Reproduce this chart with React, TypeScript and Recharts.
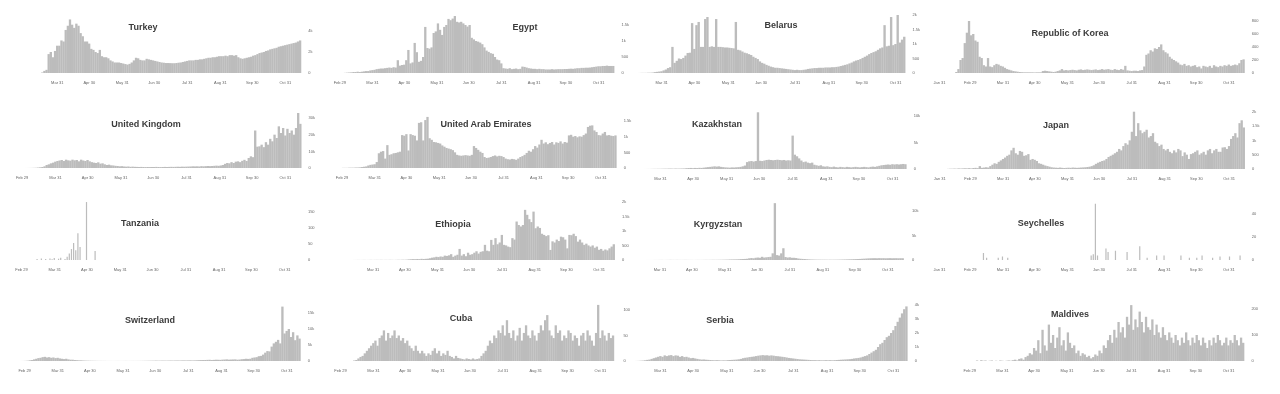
import React from 'react';
import { BarChart, Bar, XAxis, YAxis } from 'recharts';

// day index: 0 = Jan 1 2020
const MONTH_END_DAYS = [30, 59, 90, 120, 151, 181, 212, 243, 273, 304];
const MONTH_END_LABELS = ['Jan 31', 'Feb 29', 'Mar 31', 'Apr 30', 'May 31', 'Jun 30', 'Jul 31', 'Aug 31', 'Sep 30', 'Oct 31'];

// new cases, one value every second day from the start day
const turkeyStart = 76;
const turkeyCases = [
  50, 200, 300, 1800, 2000, 1500, 2100, 2600, 2600, 3100,
  3000, 4100, 4500, 5100, 4600, 4300, 4700, 4500, 3800, 3500,
  3000, 3000, 2800, 2300, 2200, 2000, 1900, 2200, 1600, 1500,
  1500, 1400, 1200, 1100, 1000, 1000, 1000, 950, 900, 850,
  800, 870, 1000, 1200, 1450, 1400, 1250, 1200, 1200, 1350,
  1300, 1250, 1200, 1150, 1100, 1050, 1000, 980, 950, 950,
  940, 930, 930, 950, 980, 1000, 1050, 1100, 1150, 1200,
  1200, 1200, 1250, 1250, 1300, 1300, 1350, 1400, 1450, 1450,
  1500, 1500, 1550, 1600, 1600, 1600, 1650, 1600, 1700, 1700,
  1650, 1700, 1500, 1400, 1350, 1400, 1450, 1500, 1550, 1650,
  1700, 1800, 1900, 1950, 2000, 2100, 2150, 2250, 2300, 2350,
  2400, 2500, 2550, 2600, 2650, 2700, 2750, 2800, 2850, 2900,
  3000, 3100,
];

const egyptStart = 64;
const egyptCases = [
  5, 10, 15, 20, 30, 30, 40, 30, 40, 50,
  60, 60, 80, 90, 100, 120, 130, 140, 140, 150,
  160, 170, 160, 180, 170, 400, 230, 250, 260, 400,
  720, 300, 330, 940, 650, 350, 380, 500, 1440, 780,
  760, 800, 1250, 1300, 1550, 1350, 1190, 1440, 1500, 1690,
  1650, 1700, 1780, 1600, 1580, 1600, 1550, 1500, 1450, 1500,
  1100, 1050, 1000, 980, 950, 900, 800, 700, 660, 620,
  600, 500, 420, 400, 300, 150, 140, 130, 150, 120,
  130, 140, 120, 130, 200, 190, 170, 150, 140, 130,
  130, 120, 130, 120, 120, 110, 110, 110, 120, 110,
  115, 120, 120, 120, 125, 125, 130, 135, 130, 140,
  150, 150, 160, 160, 165, 165, 170, 180, 190, 200,
  210, 210, 220, 220, 230, 220, 220, 220,
];

const belarusStart = 70;
const belarusCases = [
  2, 5, 5, 5, 10, 10, 15, 30, 40, 50,
  60, 90, 120, 170, 200, 900, 350, 420, 500, 480,
  520, 600, 690, 700, 1720, 830, 1650, 1760, 900, 900,
  1860, 1930, 900, 920, 900, 1860, 900, 900, 890, 880,
  880, 870, 860, 850, 1760, 800, 780, 740, 700, 680,
  650, 620, 560, 520, 480, 400, 350, 320, 280, 250,
  220, 200, 180, 180, 170, 160, 150, 140, 130, 120,
  110, 100, 110, 100, 100, 110, 120, 140, 150, 160,
  170, 170, 180, 180, 180, 190, 190, 190, 200, 200,
  210, 220, 240, 260, 280, 300, 330, 360, 400, 430,
  450, 480, 520, 560, 600, 650, 690, 720, 750, 800,
  850, 880, 1650, 920, 940, 1930, 960, 1000, 2000, 1050,
  1150, 1250,
];

const koreaStart = 46;
const koreaCases = [
  15, 60, 200, 230, 460, 620, 800, 580, 600, 500,
  480, 250, 230, 120, 100, 230, 100, 90, 120, 140,
  130, 110, 100, 80, 60, 50, 40, 30, 25, 20,
  15, 12, 10, 10, 10, 10, 10, 8, 10, 10,
  10, 30, 35, 30, 25, 20, 15, 20, 30, 40,
  60, 40, 45, 40, 45, 50, 45, 40, 50, 55,
  45, 50, 55, 50, 45, 50, 55, 45, 50, 60,
  50, 55, 60, 50, 45, 60, 50, 45, 60, 50,
  110, 40, 35, 30, 35, 35, 30, 40, 45, 100,
  280, 300, 350, 330, 380, 370, 400, 440, 350, 320,
  300, 250, 220, 200, 180, 160, 130, 120, 140, 110,
  120, 100, 110, 120, 90, 100, 70, 110, 100, 90,
  110, 80, 120, 100, 90, 110, 100, 120, 110, 130,
  110, 120, 130, 120, 150, 200, 210,
];

const ukStart = 60;
const ukCases = [
  5, 10, 20, 40, 60, 100, 150, 250, 400, 600,
  1000, 1800, 2200, 2800, 3200, 3800, 4200, 4500, 4800, 4200,
  5000, 4600, 4400, 5000, 4600, 4800, 4000, 5000, 4500, 4200,
  4800, 4000, 3500, 3200, 3000, 3400, 2600, 2800, 2200, 1800,
  2000, 1600, 1500, 1300, 1200, 1000, 1100, 900, 800, 900,
  700, 800, 700, 650, 600, 650, 600, 550, 600, 550,
  600, 600, 650, 600, 550, 600, 650, 600, 650, 700,
  650, 700, 750, 700, 800, 750, 800, 850, 900, 1000,
  950, 1000, 900, 1100, 1000, 1100, 1200, 1100, 1200, 1300,
  1400, 1300, 1500, 1800, 2500, 3000, 2800, 3500, 3000, 3800,
  4000, 3500, 4300, 4900, 4200, 6000, 7000, 6500, 22500, 12800,
  13000, 14000, 12500, 15500, 14000, 17500, 16000, 20000, 18000, 25000,
  21000, 24000, 19500, 23500, 21000, 22500, 20000, 24000, 33000, 26500,
];

const uaeStart = 60;
const uaeCases = [
  5, 5, 5, 10, 10, 10, 15, 15, 20, 30,
  40, 50, 80, 100, 110, 120, 190, 470, 520, 540,
  300, 730, 420, 440, 470, 480, 500, 520, 1050, 1030,
  1080, 560, 1080, 1050, 1030, 880, 1440, 1460, 880, 1530,
  1630, 950, 900, 830, 820, 800, 780, 720, 680, 640,
  620, 600, 570, 500, 420, 400, 390, 400, 410, 400,
  390, 420, 700, 640, 580, 520, 480, 350, 320, 330,
  350, 380, 400, 370, 390, 380, 350, 300, 280, 270,
  290, 280, 260, 300, 350, 380, 420, 480, 550, 520,
  600, 700, 650, 750, 900, 780, 820, 760, 800, 830,
  750, 820, 800, 850, 780, 830, 810, 1040, 1060, 1000,
  1020, 980, 1010, 1000, 1050, 1100, 1310, 1350, 1360, 1200,
  1150, 1050, 1040, 1100, 1150, 1040, 1050, 1030, 1020, 1040,
];

const kazakhstanStart = 76;
const kazakhstanCases = [
  5, 10, 10, 20, 30, 30, 40, 40, 50, 60,
  60, 80, 80, 60, 90, 70, 80, 90, 100, 150,
  180, 200, 150, 200, 180, 220, 200, 250, 300, 350,
  400, 450, 500, 450, 500, 400, 350, 300, 280, 250,
  300, 280, 320, 350, 400, 500, 650, 1300, 1450, 1500,
  1400, 1500, 10700, 1550, 1500, 1600, 1700, 1750, 1700, 1650,
  1700, 1750, 1700, 1650, 1700, 1600, 1650, 1600, 6300, 2700,
  2400, 2000, 1600, 1300, 1400, 1200, 1100, 1200, 800, 700,
  600, 700, 500, 450, 500, 400, 350, 450, 350, 300,
  400, 350, 300, 400, 350, 300, 350, 400, 350, 300,
  350, 400, 350, 300, 400, 450, 400, 500, 600, 700,
  750, 800, 850, 800, 900, 850, 900, 850, 900, 950,
  900,
];

const japanStart = 38;
const japanCases = [
  5, 10, 10, 15, 10, 20, 15, 20, 25, 20,
  30, 20, 35, 40, 30, 100, 40, 50, 60, 50,
  100, 150, 200, 180, 250, 300, 350, 400, 460, 500,
  650, 740, 550, 500, 630, 600, 460, 480, 520, 320,
  350, 320, 280, 200, 180, 150, 120, 100, 80, 60,
  50, 45, 40, 50, 40, 35, 40, 45, 40, 50,
  45, 40, 45, 50, 55, 60, 70, 80, 100, 130,
  180, 220, 250, 280, 300, 350, 420, 460, 500, 550,
  600, 700, 650, 800, 900, 850, 1000, 1300, 2000, 1150,
  1600, 1350, 1250, 1300, 1370, 1100, 1150, 1250, 950, 900,
  800, 850, 700, 650, 700, 600, 550, 650, 580, 700,
  650, 450, 580, 500, 350, 520, 550, 600, 650, 500,
  550, 600, 500, 650, 700, 550, 650, 700, 600, 600,
  750, 760, 700, 800, 1050, 1150, 1250, 1100, 1600, 1700,
  1450,
];

const tanzaniaDays = [74, 78, 82, 86, 88, 90, 94, 96, 100, 102, 104, 106, 108, 110, 112, 114, 120, 128];
const tanzaniaCases = [3, 5, 3, 5, 2, 6, 4, 7, 3, 10, 20, 34, 53, 30, 83, 40, 180, 28];

const ethiopiaStart = 72;
const ethiopiaCases = [
  1, 2, 3, 2, 3, 4, 2, 3, 5, 3,
  4, 5, 4, 6, 3, 5, 4, 6, 5, 3,
  5, 8, 6, 10, 8, 12, 20, 25, 30, 28,
  35, 30, 40, 35, 40, 45, 60, 80, 90, 110,
  100, 120, 110, 150, 140, 160, 200, 110, 150, 180,
  380, 150, 200, 130, 250, 180, 200, 250, 300, 220,
  280, 300, 520, 320, 300, 690, 520, 750, 540, 600,
  860, 520, 500, 460, 440, 750, 700, 1320, 1200, 1150,
  1200, 1720, 1550, 1400, 1300, 1660, 1090, 1150, 1100, 900,
  860, 820, 850, 345, 640, 600, 700, 650, 800, 780,
  700, 400, 860, 850, 900, 820, 630, 700, 600, 520,
  560, 500, 460, 500, 420, 460, 350, 380, 320, 360,
  330, 400, 460, 540,
];

const kyrgyzstanStart = 78;
const kyrgyzstanCases = [
  3, 5, 4, 8, 10, 12, 15, 20, 10, 15,
  20, 30, 20, 15, 25, 20, 15, 20, 25, 20,
  15, 15, 10, 15, 20, 15, 20, 25, 30, 25,
  30, 40, 35, 40, 45, 50, 60, 70, 80, 100,
  110, 120, 130, 150, 180, 200, 220, 250, 350, 400,
  350, 450, 500, 450, 650, 500, 550, 600, 650, 1360,
  11600, 1000, 900, 1360, 2400, 600, 500, 550, 450, 450,
  400, 300, 250, 220, 200, 150, 120, 100, 90, 80,
  70, 70, 60, 60, 60, 50, 60, 55, 60, 65,
  70, 80, 90, 100, 120, 140, 150, 170, 180, 200,
  220, 250, 270, 300, 330, 350, 360, 370, 350, 380,
  360, 370, 350, 360, 380, 350, 360, 370, 350, 360,
  360,
];

const seychellesDays = [72, 75, 86, 90, 95, 174, 176, 178, 180, 188, 190, 197, 208, 220, 227, 236, 243, 259, 267, 274, 279, 289, 296, 305, 315];
const seychellesCases = [6, 2, 2, 3, 2, 4, 5, 49, 4, 10, 7, 8, 7, 12, 2, 4, 4, 4, 2, 2, 4, 2, 3, 3, 4];

const switzerlandStart = 56;
const switzerlandCases = [
  10, 20, 50, 100, 200, 300, 500, 700, 900, 1000,
  1200, 1300, 1100, 1200, 1000, 1100, 900, 1000, 800, 700,
  600, 700, 500, 400, 400, 300, 250, 200, 200, 150,
  120, 100, 80, 70, 60, 50, 40, 40, 30, 30,
  20, 20, 20, 15, 20, 25, 20, 20, 25, 30,
  20, 25, 30, 25, 30, 35, 40, 50, 60, 70,
  80, 90, 100, 120, 100, 110, 130, 120, 110, 130,
  140, 120, 150, 160, 140, 170, 180, 160, 180, 200,
  170, 190, 220, 250, 280, 300, 320, 350, 380, 300,
  350, 400, 380, 350, 420, 450, 500, 420, 450, 480,
  500, 400, 450, 550, 600, 700, 650, 700, 1000, 1100,
  1200, 1500, 1600, 2000, 2600, 3100, 3000, 4500, 5500, 6000,
  6600, 5500, 17000, 8600, 9400, 10000, 7500, 9000, 6500, 8000,
  7000,
];

const cubaStart = 72;
const cubaCases = [
  1, 2, 5, 8, 10, 15, 20, 25, 30, 35,
  40, 30, 45, 50, 60, 40, 55, 45, 50, 60,
  45, 50, 40, 45, 35, 40, 30, 25, 20, 30,
  20, 15, 20, 15, 10, 15, 12, 20, 25, 15,
  20, 10, 15, 12, 20, 10, 8, 5, 10, 6,
  5, 4, 3, 5, 4, 3, 5, 3, 4, 5,
  10, 15, 20, 30, 40, 35, 50, 45, 60, 55,
  70, 50, 80, 55, 45, 60, 40, 50, 65, 40,
  55, 70, 50, 45, 60, 50, 40, 55, 70, 60,
  80, 90, 60, 50, 45, 70, 55, 60, 40, 50,
  45, 60, 55, 40, 50, 45, 30, 50, 55, 40,
  60, 50, 40, 30, 55, 110, 45, 60, 50, 40,
  55, 45, 50,
];

const serbiaStart = 68;
const serbiaCases = [
  5, 10, 20, 30, 50, 80, 100, 150, 200, 250,
  300, 350, 300, 400, 350, 400, 420, 350, 400, 380,
  300, 350, 280, 300, 250, 200, 220, 180, 150, 120,
  100, 110, 90, 80, 70, 60, 50, 60, 50, 40,
  50, 45, 60, 70, 80, 90, 100, 120, 150, 200,
  230, 250, 280, 300, 320, 350, 380, 400, 420, 400,
  410, 380, 400, 380, 350, 340, 320, 300, 280, 250,
  220, 200, 180, 160, 140, 120, 110, 100, 90, 80,
  70, 60, 60, 50, 60, 50, 50, 60, 50, 60,
  50, 60, 70, 80, 90, 100, 110, 120, 130, 150,
  180, 200, 220, 250, 300, 350, 400, 500, 600, 700,
  800, 1000, 1200, 1300, 1500, 1700, 1800, 2000, 2200, 2500,
  2800, 3100, 3400, 3700, 3900,
];

const maldivesStart = 66;
const maldivesCases = [
  2, 0, 3, 1, 2, 0, 1, 2, 0, 1,
  0, 2, 1, 0, 1, 2, 1, 3, 5, 2,
  8, 10, 5, 15, 20, 30, 25, 50, 40, 80,
  30, 120, 60, 40, 140, 70, 100, 50, 90, 130,
  60, 80, 40, 110, 70, 50, 60, 30, 40, 20,
  30, 25, 15, 20, 10, 15, 25, 20, 40, 30,
  60, 50, 80, 100, 70, 120, 90, 150, 110, 130,
  90, 170, 140, 215, 120, 160, 130, 190, 150, 110,
  170, 130, 120, 160, 100, 140, 110, 90, 130, 100,
  80, 110, 90, 70, 100, 80, 60, 90, 70, 110,
  80, 60, 90, 70, 100, 80, 60, 90, 70, 50,
  80, 60, 90, 70, 100, 80, 60, 70, 90, 60,
  80, 70, 100, 80, 60, 90, 70,
];

type PanelSpec = {
  title: string;
  values: number[];
  start?: number;
  days?: number[];
  d0: number; // first day of the x domain
  d1: number; // last day of the x domain
  p90: number; // page x of Mar 31
  p304: number; // page x of Oct 31
  base: number; // page y of the zero line
  yTicks: number[];
  topTickY: number; // page y of the highest tick
  tx: number;
  ty: number;
};

const PANELS: PanelSpec[] = [
  { title: 'Turkey', values: turkeyCases, start: turkeyStart, d0: 70, d1: 320, p90: 57, p304: 285, base: 73, yTicks: [0, 2000, 4000], topTickY: 31, tx: 143, ty: 27 },
  { title: 'Egypt', values: egyptCases, start: egyptStart, d0: 44, d1: 320, p90: 373, p304: 599, base: 73, yTicks: [0, 500, 1000, 1500], topTickY: 25, tx: 525, ty: 27 },
  { title: 'Belarus', values: belarusCases, start: belarusStart, d0: 62, d1: 314, p90: 662, p304: 896, base: 73, yTicks: [0, 500, 1000, 1500, 2000], topTickY: 15, tx: 781, ty: 25 },
  { title: 'Republic of Korea', values: koreaCases, start: koreaStart, d0: 20, d1: 320, p90: 1003, p304: 1229, base: 73, yTicks: [0, 200, 400, 600, 800], topTickY: 21, tx: 1070, ty: 33 },

  { title: 'United Kingdom', values: ukCases, start: ukStart, d0: 31, d1: 320, p90: 55, p304: 285, base: 168, yTicks: [0, 10000, 20000, 30000], topTickY: 118, tx: 146, ty: 124 },
  { title: 'United Arab Emirates', values: uaeCases, start: uaeStart, d0: 40, d1: 320, p90: 375, p304: 601, base: 168, yTicks: [0, 500, 1000, 1500], topTickY: 121, tx: 486, ty: 124 },
  { title: 'Kazakhstan', values: kazakhstanCases, start: kazakhstanStart, d0: 72, d1: 318, p90: 661, p304: 893, base: 169, yTicks: [0, 5000, 10000], topTickY: 116, tx: 717, ty: 124 },
  { title: 'Japan', values: japanCases, start: japanStart, d0: 16, d1: 320, p90: 1003, p304: 1229, base: 169, yTicks: [0, 500, 1000, 1500, 2000], topTickY: 111.7, tx: 1056, ty: 125 },

  { title: 'Tanzania', values: tanzaniaCases, days: tanzaniaDays, d0: 40, d1: 320, p90: 55, p304: 285, base: 260, yTicks: [0, 50, 100, 150], topTickY: 211.7, tx: 140, ty: 223 },
  { title: 'Ethiopia', values: ethiopiaCases, start: ethiopiaStart, d0: 70, d1: 320, p90: 373, p304: 599, base: 260, yTicks: [0, 500, 1000, 1500, 2000], topTickY: 201.7, tx: 453, ty: 224 },
  { title: 'Kyrgyzstan', values: kyrgyzstanCases, start: kyrgyzstanStart, d0: 76, d1: 321, p90: 660, p304: 888, base: 260, yTicks: [0, 5000, 10000], topTickY: 211, tx: 718, ty: 224 },
  { title: 'Seychelles', values: seychellesCases, days: seychellesDays, d0: 20, d1: 320, p90: 1003, p304: 1229, base: 260, yTicks: [0, 20, 40], topTickY: 214, tx: 1041, ty: 223 },

  { title: 'Switzerland', values: switzerlandCases, start: switzerlandStart, d0: 50, d1: 318, p90: 58, p304: 287, base: 361, yTicks: [0, 5000, 10000, 15000], topTickY: 313, tx: 150, ty: 320 },
  { title: 'Cuba', values: cubaCases, start: cubaStart, d0: 50, d1: 320, p90: 373, p304: 600, base: 361, yTicks: [0, 50, 100], topTickY: 310, tx: 461, ty: 318 },
  { title: 'Serbia', values: serbiaCases, start: serbiaStart, d0: 62, d1: 318, p90: 660, p304: 893, base: 361, yTicks: [0, 1000, 2000, 3000, 4000], topTickY: 305, tx: 720, ty: 320 },
  { title: 'Maldives', values: maldivesCases, start: maldivesStart, d0: 45, d1: 320, p90: 1003, p304: 1229, base: 361, yTicks: [0, 100, 200], topTickY: 309, tx: 1070, ty: 314 },
];

const ML = 16;
const AXW = 26;
const PLOT_H = 62;
const XAXIS_H = 16;
const FONT = '"Liberation Sans", Arial, sans-serif';
const BAR_FILL = '#bcbcbc';

function fmtCases(v: number) {
  if (v >= 1000) return `${v / 1000}k`;
  return String(v);
}

// dense series: widen each bar slightly so neighbouring bars close up
function WideBar(props: any) {
  const { x, y, width, height } = props;
  if (!height || height <= 0) return null;
  return <rect x={x - 0.2} y={y} width={width + 0.4} height={height} fill={BAR_FILL} />;
}

function Panel({ p }: { p: PanelSpec }) {
  const k = (p.p304 - p.p90) / 214;
  const xAt = (d: number) => p.p304 + (d - 304) * k;
  const plotLeft = xAt(p.d0);
  const plotW = xAt(p.d1) - plotLeft;
  const yMax = (PLOT_H * p.yTicks[p.yTicks.length - 1]) / (p.base - p.topTickY);
  const rows = p.values.map((v, i) => ({ day: p.days ? p.days[i] : (p.start as number) + 2 * i, v }));
  const ticks = MONTH_END_DAYS.filter((d) => d >= p.d0 && d <= p.d1);
  const tickStyle = { fontSize: 4, fill: '#666', fontFamily: FONT };

  return (
    <>
      <div style={{ position: 'absolute', left: plotLeft - ML, top: p.base - PLOT_H, willChange: 'transform' }}>
        <BarChart
          width={plotW + ML + AXW}
          height={PLOT_H + XAXIS_H}
          data={rows}
          margin={{ top: 0, right: 0, bottom: 0, left: ML }}
          barCategoryGap={0}
        >
          <XAxis
            type="number"
            dataKey="day"
            domain={[p.d0, p.d1]}
            allowDataOverflow
            ticks={ticks}
            interval={0}
            tickFormatter={(d: number) => MONTH_END_LABELS[MONTH_END_DAYS.indexOf(d)]}
            height={XAXIS_H}
            tickSize={0}
            tickMargin={8}
            axisLine={false}
            tickLine={false}
            tick={tickStyle}
          />
          <YAxis
            orientation="right"
            type="number"
            domain={[0, yMax]}
            allowDataOverflow
            ticks={p.yTicks}
            interval={0}
            tickFormatter={fmtCases}
            width={AXW}
            tickSize={0}
            tickMargin={6}
            axisLine={false}
            tickLine={false}
            tick={tickStyle}
          />
          {p.days ? (
            <Bar dataKey="v" fill={BAR_FILL} barSize={1.2} isAnimationActive={false} />
          ) : (
            <Bar dataKey="v" fill={BAR_FILL} barSize={2 * k} shape={WideBar} isAnimationActive={false} />
          )}
        </BarChart>
      </div>
      <div
        style={{
          position: 'absolute',
          left: p.tx,
          top: p.ty,
          transform: 'translate(-50%, -50%)',
          fontFamily: FONT,
          fontWeight: 700,
          fontSize: 9,
          lineHeight: 1,
          color: '#3c3c3c',
          whiteSpace: 'nowrap',
        }}
      >
        {p.title}
      </div>
    </>
  );
}

export default function App() {
  return (
    <div style={{ position: 'absolute', left: 0, top: 0, width: 1280, height: 394, background: '#fff', overflow: 'hidden' }}>
      {PANELS.map((p) => (
        <Panel key={p.title} p={p} />
      ))}
    </div>
  );
}
